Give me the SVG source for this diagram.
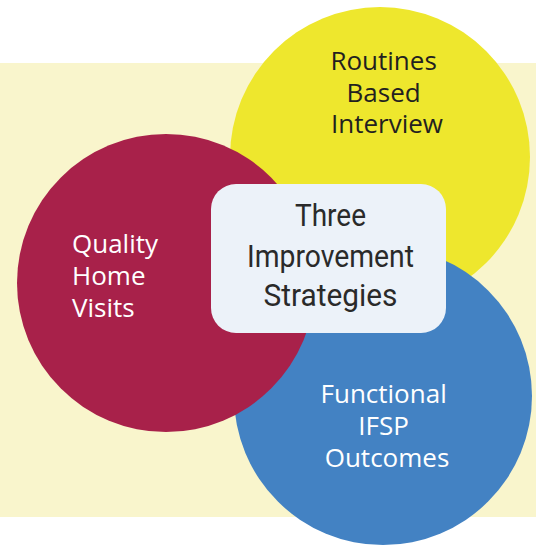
<svg xmlns="http://www.w3.org/2000/svg" width="536" height="545" viewBox="0 0 536 545">
  <style>
    .lbl { font-family: "Open Sans", "Noto Sans", "DejaVu Sans", sans-serif; font-size: 26px; }
    .dark { fill: #231f20; }
    .light { fill: #ffffff; }
    .title { font-family: "Roboto", "DejaVu Sans", "Liberation Sans", sans-serif; font-size: 31px; font-weight: 400; fill: #2a2a2a; text-anchor: middle; }
  </style>
  <rect id="background" x="0" y="63" width="536" height="454" fill="#f9f5cc"/>
  <g id="connectors"/>
  <g id="node-routines">
    <circle cx="380" cy="157" r="150" fill="#eee72d"/>
    <text class="lbl dark" text-anchor="middle">
      <tspan x="387" y="70">Routines</tspan>
      <tspan x="387" y="102">Based</tspan>
      <tspan x="387" y="133">Interview</tspan>
    </text>
  </g>
  <g id="node-functional">
    <circle cx="383" cy="396" r="149" fill="#4382c3"/>
    <text class="lbl light" text-anchor="middle">
      <tspan x="387" y="403">Functional</tspan>
      <tspan x="387" y="435">IFSP</tspan>
      <tspan x="387" y="467">Outcomes</tspan>
    </text>
  </g>
  <g id="node-quality">
    <circle cx="166" cy="283" r="149" fill="#a8214a"/>
    <text class="lbl light">
      <tspan x="72" y="253">Quality</tspan>
      <tspan x="72" y="285">Home</tspan>
      <tspan x="72" y="317">Visits</tspan>
    </text>
  </g>
  <g id="node-center">
    <rect x="211" y="184" width="235" height="149" rx="25" ry="25" fill="#ecf2f9"/>
    <text class="title" x="330.5" y="226" textLength="71" lengthAdjust="spacingAndGlyphs">Three</text>
    <text class="title" x="330.5" y="267" textLength="167" lengthAdjust="spacingAndGlyphs">Improvement</text>
    <text class="title" x="330.5" y="306" textLength="134" lengthAdjust="spacingAndGlyphs">Strategies</text>
  </g>
</svg>
